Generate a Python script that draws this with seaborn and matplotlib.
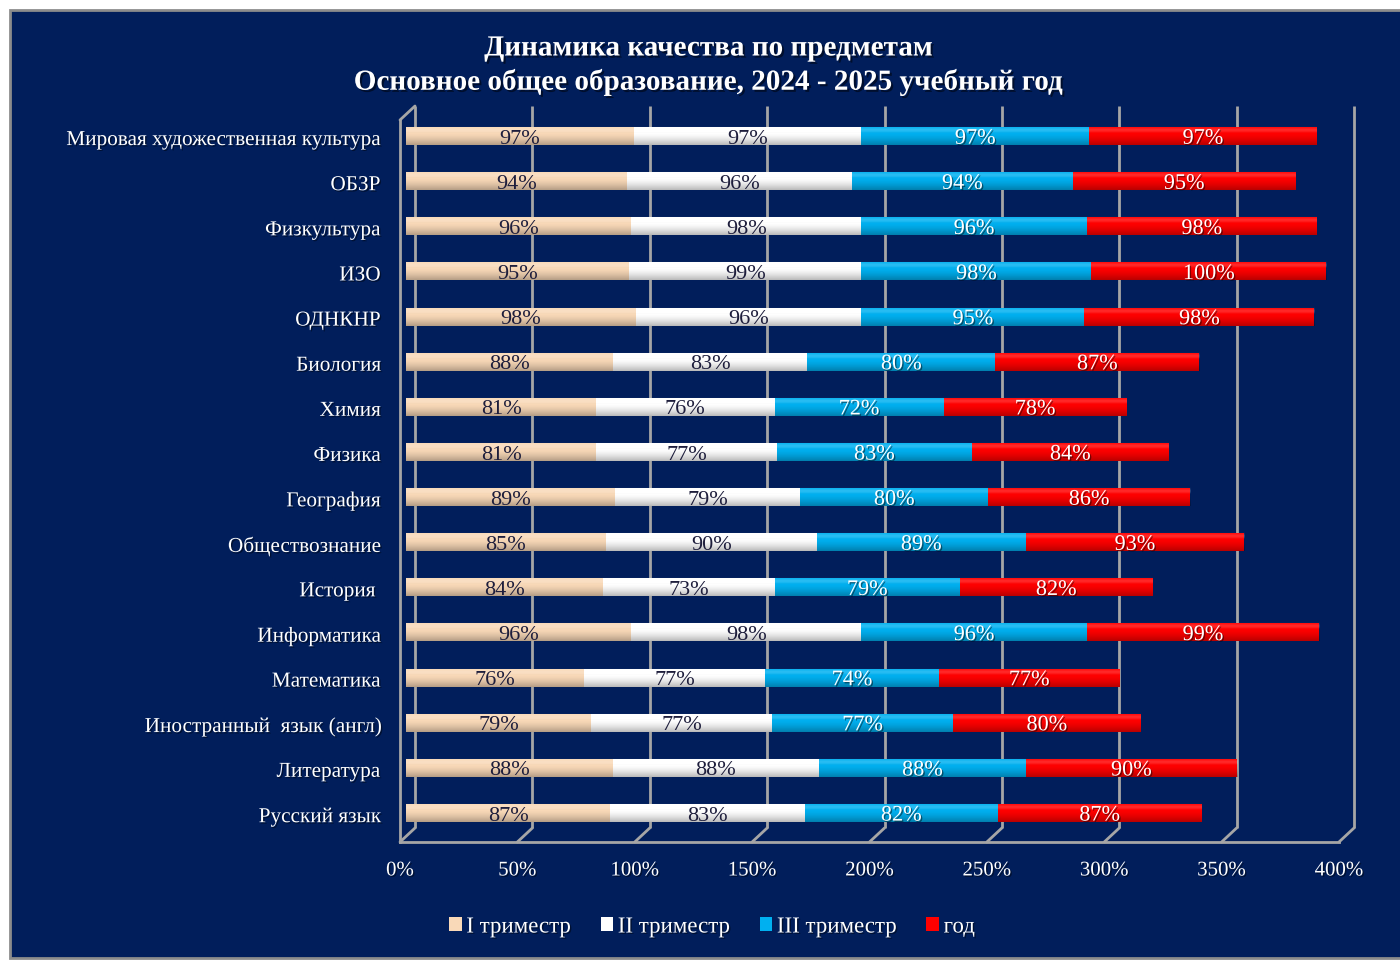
import numpy as np
import pandas as pd
import matplotlib
matplotlib.use("Agg")
import matplotlib.pyplot as plt
import seaborn as sns
from matplotlib.patches import Rectangle, Patch
from matplotlib.transforms import ScaledTranslation
import matplotlib.patheffects as pe

# ---------------- data ----------------
subjects = [
    "Мировая художественная культура", "ОБЗР", "Физкультура", "ИЗО", "ОДНКНР",
    "Биология", "Химия", "Физика", "География", "Обществознание", "История ",
    "Информатика", "Математика", "Иностранный  язык (англ)", "Литература",
    "Русский язык",
]
tri1 = [97, 94, 96, 95, 98, 88, 81, 81, 89, 85, 84, 96, 76, 79, 88, 87]
tri2 = [97, 96, 98, 99, 96, 83, 76, 77, 79, 90, 73, 98, 77, 77, 88, 83]
tri3 = [97, 94, 96, 98, 95, 80, 72, 83, 80, 89, 79, 96, 74, 77, 88, 82]
year = [97, 95, 98, 100, 98, 87, 78, 84, 86, 93, 82, 99, 77, 80, 90, 87]
series_names = ["I триместр", "II триместр", "III триместр", "год"]
xtick_values = [0, 50, 100, 150, 200, 250, 300, 350, 400]
title_line1 = "Динамика качества по предметам"
title_line2 = "Основное общее образование, 2024 - 2025 учебный год"

# ---------------- style ----------------
colors = ["#F9D9B8", "#FFFFFF", "#00B0F0", "#FF0000"]
label_colors = ["#1E1E3C", "#1E1E3C", "white", "white"]
navy = "#011E5B"
grid_gray = "#A6A6A6"

sns.set_theme(style="white")
plt.rcParams["font.family"] = ["Liberation Serif", "DejaVu Serif"]

W, H = 1400, 961
fig = plt.figure(figsize=(W / 100, H / 100), dpi=100)
fig.patch.set_facecolor("white")
bg = Rectangle((10 / W, 1 - 958 / H), 1.0, (958 - 10) / H,
               transform=fig.transFigure, facecolor=navy,
               edgecolor="#8C8C8C", linewidth=2, zorder=-10)
fig.patches.append(bg)

ax = fig.add_axes([400 / W, 1 - 842 / H, 939 / W, 722 / H])
ax.set_facecolor("none")
ax.set_zorder(1)

df = pd.DataFrame({"subject": subjects, "s1": tri1, "s2": tri2, "s3": tri3, "s4": year})
vals = df[["s1", "s2", "s3", "s4"]].to_numpy(dtype=float)
cum = np.cumsum(vals, axis=1)

bar_h = 0.40
# stacked bars: draw cumulative totals from the largest to the smallest
for i in reversed(range(4)):
    sns.barplot(x=cum[:, i], y=df["subject"], orient="h", color=colors[i],
                saturation=1, width=bar_h, linewidth=0, ax=ax, zorder=3)

ylim = (15.596, -0.342)
ax.set_xlim(0, 400)
ax.set_ylim(*ylim)

# cylinder-like shading per row
t = np.linspace(0, 1, 64)
grad = np.zeros((64, 1, 4))
for k, tt in enumerate(t):
    if tt < 0.35:
        grad[k, 0, :3] = 1.0
        grad[k, 0, 3] = 0.18 * max(0.0, 1 - abs(tt - 0.2) / 0.2)
    else:
        grad[k, 0, :3] = 0.0
        grad[k, 0, 3] = 0.28 * ((tt - 0.35) / 0.65) ** 1.5
images = []
for r in range(len(subjects)):
    total = cum[r, -1]
    images.append(ax.imshow(grad, extent=[0, total, r + bar_h / 2, r - bar_h / 2],
                            aspect="auto", interpolation="bilinear", zorder=3.5))
ax.set_xlim(0, 400)
ax.set_ylim(*ylim)

# bars sit in the middle of the 3-D depth: shift them slightly right / up
depth_shift = ax.transData + ScaledTranslation(0.06, 0.02, fig.dpi_scale_trans)
for p in ax.patches:
    p.set_transform(depth_shift)
for im in images:
    im.set_transform(depth_shift)

# value labels
shadow = [pe.SimplePatchShadow(offset=(1, -1), shadow_rgbFace="black", alpha=0.45), pe.Normal()]
for r in range(len(subjects)):
    start = 0.0
    for i in range(4):
        v = vals[r, i]
        ax.text(start + v / 2, r + 0.07, f"{int(v)}%", ha="center", va="center",
                fontsize=16, color=label_colors[i], zorder=5, transform=depth_shift,
                path_effects=shadow if i >= 2 else None)
        start += v

# axes styling
ax.set_xlabel("")
ax.set_ylabel("")
ax.grid(False)
for s in ["top", "right"]:
    ax.spines[s].set_visible(False)
for s in ["left", "bottom"]:
    ax.spines[s].set_color(grid_gray)
    ax.spines[s].set_linewidth(2)
    ax.spines[s].set_zorder(2)

ax.set_xticks(xtick_values)
ax.set_xticklabels([f"{v}%" for v in xtick_values])
ax.tick_params(axis="x", length=6, width=2, color=grid_gray, pad=8,
               labelsize=15, labelcolor="white", direction="out")
ax.set_yticks(range(len(subjects)))
ax.set_yticklabels(subjects)
ax.tick_params(axis="y", which="major", length=0, pad=14, labelsize=15.3, labelcolor="white")
ax.set_yticks(np.arange(-0.5, 15.6, 1.0) + 0.1, minor=True)
ax.tick_params(axis="y", which="minor", length=5, width=2, color=grid_gray, direction="out")
for lab in ax.get_xticklabels() + ax.get_yticklabels():
    lab.set_path_effects(shadow)

# 3-D style back wall grid lines and floor slants
dx_in, dy_in = 0.15, 0.14
back = ax.get_xaxis_transform() + ScaledTranslation(dx_in, dy_in, fig.dpi_scale_trans)
for v in xtick_values:
    ax.plot([v, v], [0, 1], transform=back, color=grid_gray, lw=2, zorder=1,
            clip_on=False, solid_capstyle="butt")
    ax.annotate("", xy=(v, 0), xycoords=ax.get_xaxis_transform(),
                xytext=(dx_in * 72, dy_in * 72), textcoords="offset points",
                arrowprops=dict(arrowstyle="-", color=grid_gray, lw=2,
                                shrinkA=0, shrinkB=0), zorder=1,
                annotation_clip=False)
ax.annotate("", xy=(0, 1), xycoords=ax.get_xaxis_transform(),
            xytext=(dx_in * 72, dy_in * 72), textcoords="offset points",
            arrowprops=dict(arrowstyle="-", color=grid_gray, lw=2,
                            shrinkA=0, shrinkB=0), zorder=1, annotation_clip=False)

# title
txt_shadow = [pe.SimplePatchShadow(offset=(1.5, -1.5), shadow_rgbFace="black", alpha=0.5), pe.Normal()]
fig.text(708 / W, 1 - 48 / H, title_line1, ha="center", va="center", fontsize=21,
         fontweight="bold", color="white", path_effects=txt_shadow)
fig.text(708 / W, 1 - 82 / H, title_line2, ha="center", va="center", fontsize=21,
         fontweight="bold", color="white", path_effects=txt_shadow)

# legend
handles = [Patch(facecolor=c, edgecolor="none") for c in colors]
leg = fig.legend(handles, series_names, loc="center", bbox_to_anchor=(712 / W, 1 - 927 / H),
                 ncol=4, frameon=False, fontsize=16.5, labelcolor="white",
                 handlelength=0.55, handleheight=0.55, handletextpad=0.2,
                 columnspacing=1.3)
for tx in leg.get_texts():
    tx.set_path_effects(shadow)

fig.savefig("out.png", dpi=100, facecolor=fig.get_facecolor())
